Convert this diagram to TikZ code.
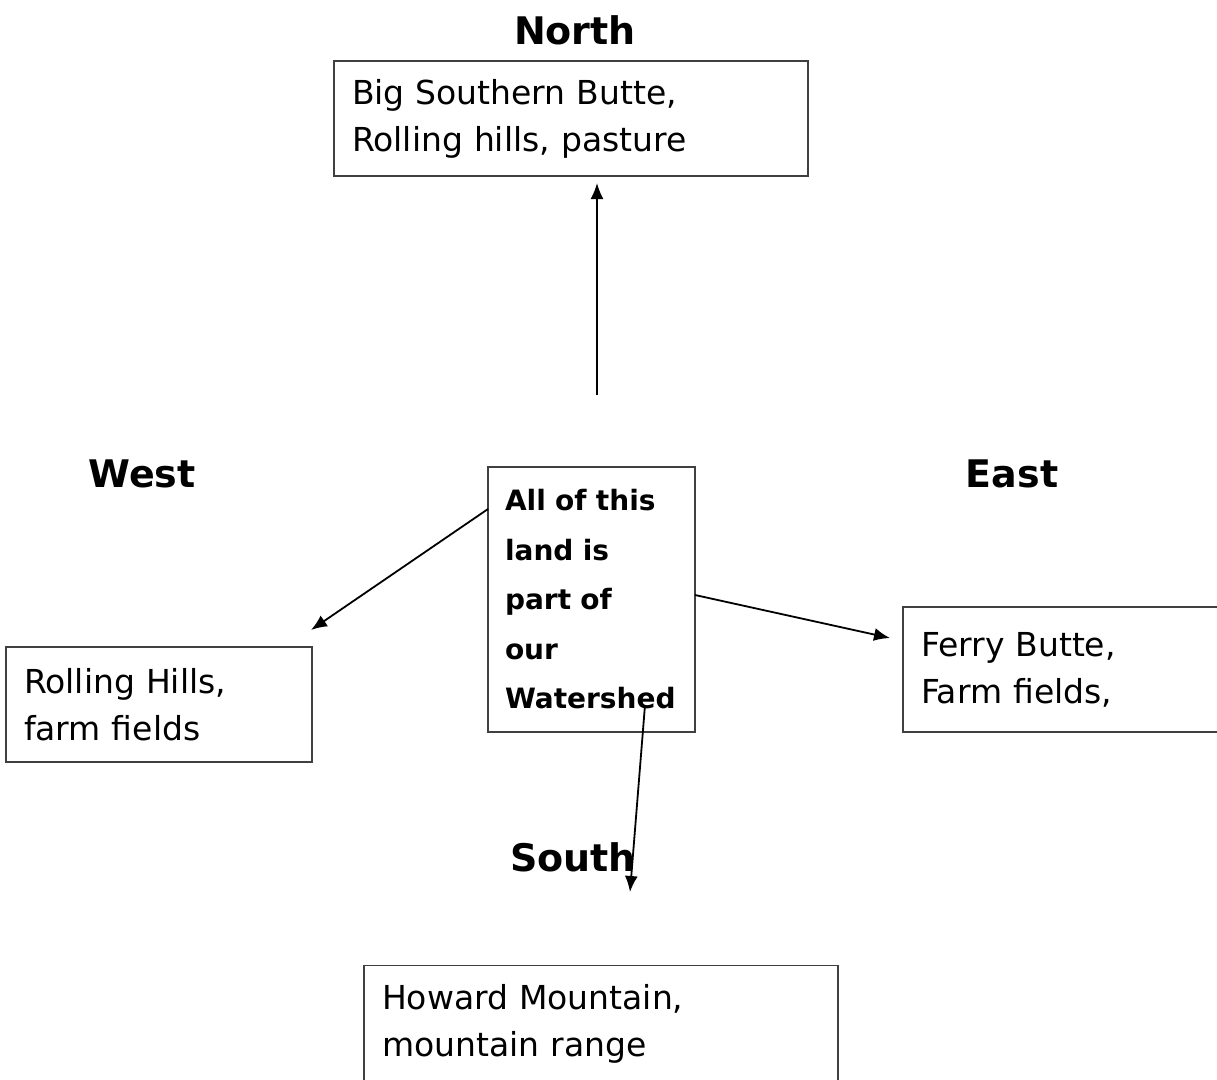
\documentclass[tikz,border=0pt]{standalone}
\usepackage{fontspec}
\setmainfont{DejaVu Sans}
\usetikzlibrary{arrows.meta}
\tikzset{
  x=1pt, y=-1pt,
  box/.style={draw=black!75, line width=1.4pt, align=left, inner xsep=18pt, inner ysep=0pt,
    font=\fontsize{33}{47}\selectfont, anchor=center},
  heading/.style={font=\fontsize{38}{44}\selectfont\bfseries, inner sep=0pt},
  conn/.style={line width=1.8pt, -{Latex[length=16pt,width=13pt]}}
}
\begin{document}
\begin{tikzpicture}
\useasboundingbox (0,0) rectangle (1217,1079);
\clip (0,0) rectangle (1217,1079);
\node[heading] (hnorth) at (575,30) {North};
\node[heading] (hwest) at (142,474) {West};
\node[heading] (heast) at (1012,474) {East};
\node[heading] (hsouth) at (573,857) {South};

\node[box, minimum width=474pt, minimum height=115pt, text width=438pt] (north) at (571,118.5)
  {Big Southern Butte,\\Rolling hills, pasture};
\node[box, minimum width=306pt, minimum height=115pt, text width=270pt] (west) at (159,704.5)
  {Rolling Hills,\\farm fields};
\node[box, minimum width=340pt, minimum height=125pt, text width=304pt] (east) at (1073,669.5)
  {Ferry Butte,\\Farm fields,};
\node[box, minimum width=474pt, text width=438pt, anchor=north, inner ysep=19pt] (south) at (601,965)
  {Howard Mountain,\\mountain range\\~\\~};
\node[box, minimum width=207pt, minimum height=265pt, text width=173pt, inner xsep=17pt,
  font=\fontsize{28}{49.5}\selectfont\bfseries] (center) at (591.5,599.5)
  {All of this\\land is\\part of\\our\\Watershed};

\coordinate (nfrom) at (597,395);
\coordinate (nto) at (597,183);
\coordinate (wfrom) at (488,509);
\coordinate (wto) at (311,630);
\coordinate (efrom) at (695,595);
\coordinate (eto) at (890,638);
\coordinate (sfrom) at (645,705);
\coordinate (sto) at (630,892);
\draw[conn] (nfrom) -- (nto);
\draw[conn] (wfrom) -- (wto);
\draw[conn] (efrom) -- (eto);
\draw[conn] (sfrom) -- (sto);
\end{tikzpicture}
\end{document}
